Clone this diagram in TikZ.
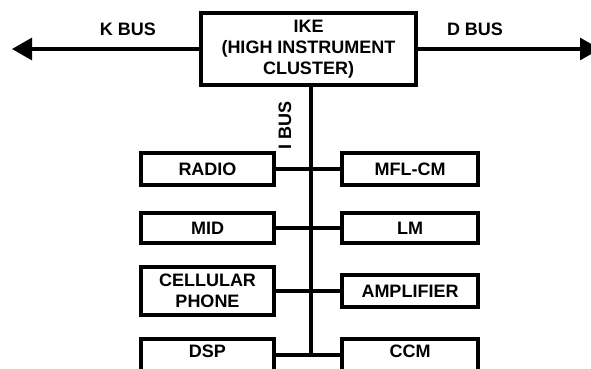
\documentclass[tikz,border=0pt]{standalone}
\usepackage{fontspec}
\setmainfont{Liberation Sans}
\usetikzlibrary{arrows.meta,positioning}

\begin{document}
\begin{tikzpicture}[x=1pt, y=-1pt,
  font=\fontsize{18}{21}\selectfont\bfseries,
  unit/.style={draw, line width=3.1pt, align=center, inner sep=2pt,
    outer sep=0pt, minimum height=32pt},
  leftunit/.style={unit, minimum width=133pt},
  rightunit/.style={unit, minimum width=136pt},
  cutunit/.style={text height=13pt, text depth=9pt},
  bus/.style={line width=3.1pt},
  busarrow/.style={bus, -{Triangle[length=20pt, width=22pt]}}
]
  \useasboundingbox (0,0) rectangle (591,369);

  % main module with the two outer buses
  \node[unit, minimum width=215pt, minimum height=72pt] (ike) at (308.5,49)
    {IKE\\(HIGH INSTRUMENT\\CLUSTER)};
  \coordinate (kend) at (12,49);
  \coordinate (dend) at (600,49);
  \draw[busarrow] (ike.west) -- (kend);
  \draw[busarrow] (ike.east) -- (dend);
  \node (kbus) at (128,29) {K BUS};
  \node (dbus) at (475,29) {D BUS};

  % modules on the I bus
  \node[leftunit] (radio) at (207.5,169) {RADIO};
  \node[leftunit, minimum height=30pt, below=28pt of radio] (mid) {MID};
  \node[leftunit, minimum height=48pt, below=24pt of mid] (phone) {CELLULAR\\PHONE};
  \node[leftunit, cutunit, below=24pt of phone] (dsp) {DSP};

  \node[rightunit, right=68pt of radio] (mflcm) {MFL-CM};
  \node[rightunit, minimum height=30pt, right=68pt of mid] (lm) {LM};
  \node[rightunit, right=68pt of phone] (amp) {AMPLIFIER};
  \node[rightunit, cutunit, right=68pt of dsp] (ccm) {CCM};

  \coordinate[xshift=2.5pt] (ibustop) at (ike.south);
  \draw[bus] (ibustop) -- (ibustop |- dsp.east);
  \node[rotate=90] (ibus) at (285,125) {I BUS};
  \draw[bus] (radio) -- (mflcm);
  \draw[bus] (mid) -- (lm);
  \draw[bus] (phone) -- (amp);
  \draw[bus] (dsp) -- (ccm);
\end{tikzpicture}
\end{document}
